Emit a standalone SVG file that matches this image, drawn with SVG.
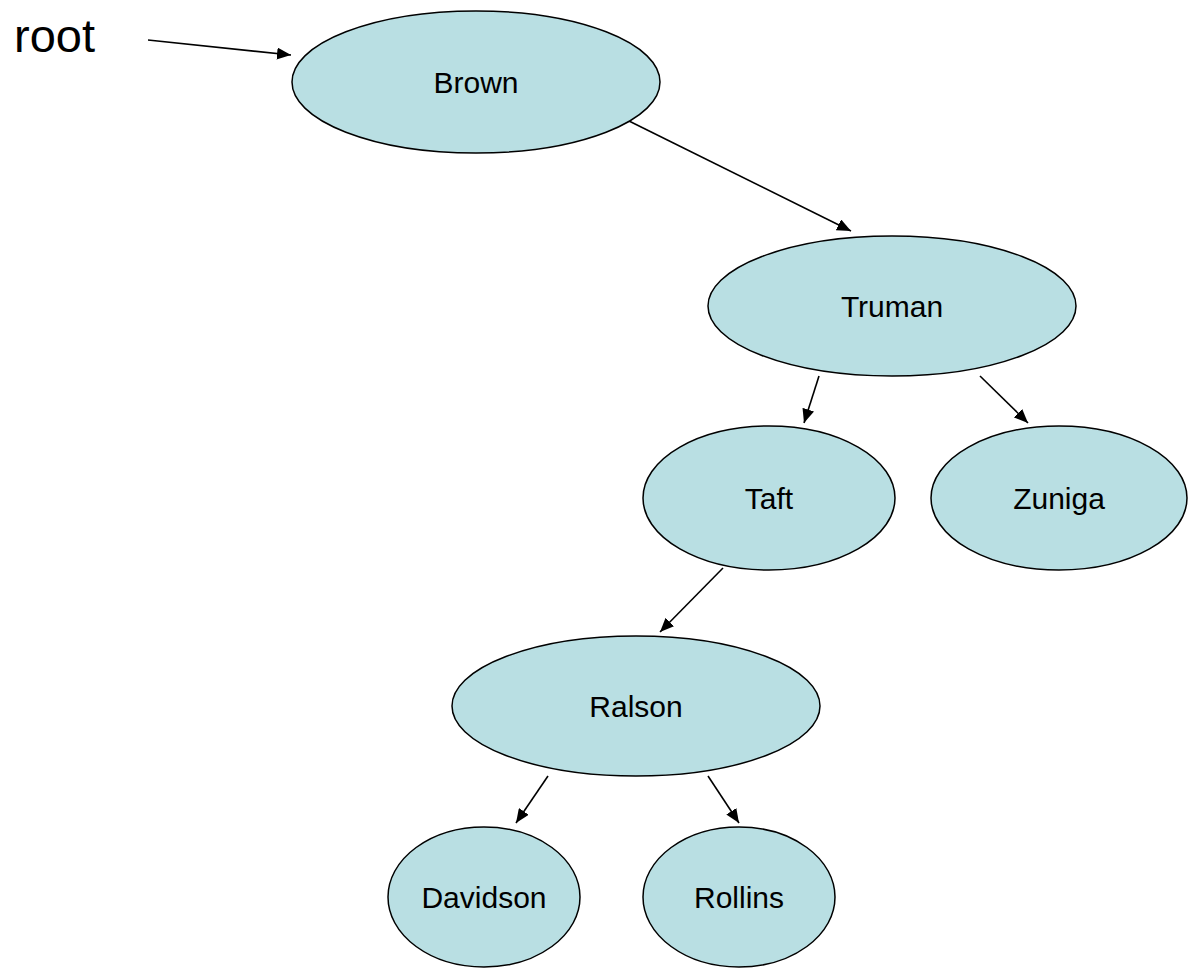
<svg xmlns="http://www.w3.org/2000/svg" width="1188" height="968" viewBox="0 0 1188 968">
<defs>
<marker id="arr" viewBox="0 0 14 12" refX="14" refY="6" markerWidth="14" markerHeight="12" markerUnits="userSpaceOnUse" orient="auto">
<path d="M0,0 L14,6 L0,12 z" fill="#000"/>
</marker>
<style>
.node ellipse{fill:#B9DFE3;stroke:#000;stroke-width:1.5}
.node text{font-family:"Liberation Sans",Arial,sans-serif;font-size:30px;fill:#000;text-anchor:middle}
.edge{stroke:#000;stroke-width:1.6;fill:none;marker-end:url(#arr)}
</style>
</defs>
<rect width="1188" height="968" fill="#fff"/>
<text x="14" y="52" font-family="Liberation Sans, Arial, sans-serif" font-size="47" fill="#000">root</text>
<g id="connectors">
<line class="edge" x1="148" y1="40" x2="291" y2="55"/>
<line class="edge" x1="629" y1="121" x2="851" y2="231"/>
<line class="edge" x1="819" y1="376" x2="804" y2="423"/>
<line class="edge" x1="980" y1="376" x2="1028" y2="423"/>
<line class="edge" x1="723" y1="568" x2="660" y2="632"/>
<line class="edge" x1="548" y1="776" x2="516" y2="823"/>
<line class="edge" x1="708" y1="776" x2="739" y2="823"/>
</g>
<g id="brown" class="node"><ellipse cx="476" cy="82" rx="184" ry="71"/><text x="476" y="93">Brown</text></g>
<g id="truman" class="node"><ellipse cx="892" cy="306" rx="184" ry="70"/><text x="892" y="317">Truman</text></g>
<g id="taft" class="node"><ellipse cx="769" cy="498" rx="126" ry="72"/><text x="769" y="509">Taft</text></g>
<g id="zuniga" class="node"><ellipse cx="1059" cy="498" rx="128" ry="72"/><text x="1059" y="509">Zuniga</text></g>
<g id="ralson" class="node"><ellipse cx="636" cy="706" rx="184" ry="70"/><text x="636" y="717">Ralson</text></g>
<g id="davidson" class="node"><ellipse cx="484" cy="897" rx="96" ry="70"/><text x="484" y="908">Davidson</text></g>
<g id="rollins" class="node"><ellipse cx="739" cy="897" rx="96" ry="70"/><text x="739" y="908">Rollins</text></g>
</svg>
